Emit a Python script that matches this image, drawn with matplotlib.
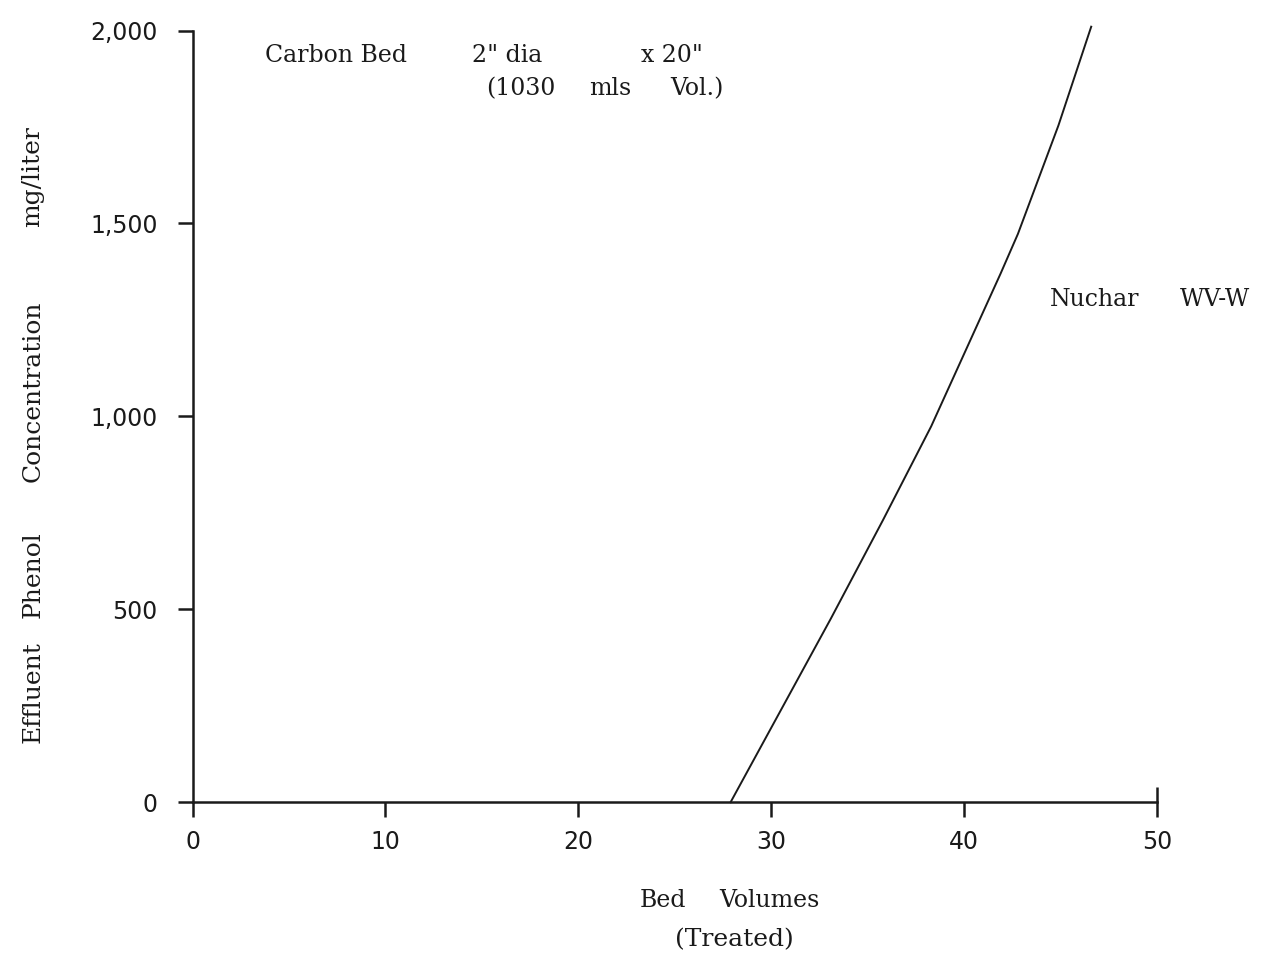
import matplotlib
matplotlib.use("Agg")
import matplotlib.pyplot as plt

# breakthrough curve, Nuchar WV-W carbon bed
bed_volumes = [27.9, 33.1, 35.8, 38.3, 41.9, 42.8, 44.9, 46.6]
phenol_mg_l = [0, 476, 731, 974, 1370, 1473, 1754, 2010]

x_ticks = [0, 10, 20, 30, 40, 50]
y_ticks = [0, 500, 1000, 1500, 2000]
y_tick_labels = ["0", "500", "1,000", "1,500", "2,000"]

ink = "#1a1a1a"
serif = "DejaVu Serif"


def spaced_words(fig, words, xs, ys, **kw):
    # typewriter-style wide spacing: one text per word
    for w, x, y in zip(words, xs, ys):
        fig.text(x, y, w, family=serif, color=ink,
                 ha="center", va="center", **kw)


fig = plt.figure(figsize=(12.67, 9.55), dpi=100)
ax = fig.add_axes([0.152, 0.160, 0.761, 0.808])

ax.plot(bed_volumes, phenol_mg_l, color=ink, linewidth=1.4, clip_on=False)

ax.set_xlim(0, 50)
ax.set_ylim(0, 2000)
ax.set_xticks(x_ticks)
ax.set_xticklabels([str(t) for t in x_ticks])
ax.set_yticks(y_ticks)
ax.set_yticklabels(y_tick_labels)

for side in ("top", "right"):
    ax.spines[side].set_visible(False)
for side in ("left", "bottom"):
    ax.spines[side].set_linewidth(1.8)
    ax.spines[side].set_color(ink)

ax.tick_params(axis="x", direction="out", length=11, width=1.8, colors=ink,
               labelsize=17, pad=9)
ax.tick_params(axis="y", direction="out", length=11, width=1.8, colors=ink,
               labelsize=17, pad=14)
for lab in ax.get_xticklabels() + ax.get_yticklabels():
    lab.set_fontfamily("DejaVu Sans")

# last x tick crosses the axis
end_tick = ax.xaxis.get_major_ticks()[-1].tick1line
end_tick.set_marker("|")
end_tick.set_markersize(22)

# y axis title
spaced_words(fig, ["Effluent", "Phenol", "Concentration", "mg/liter"],
             [0.026] * 4, [0.275, 0.398, 0.590, 0.815],
             fontsize=18, rotation=90)

# x axis title
spaced_words(fig, ["Bed", "Volumes"], [0.523, 0.607], [0.057, 0.057],
             fontsize=17)
fig.text(0.580, 0.016, "(Treated)", family=serif, fontsize=18, color=ink,
         ha="center", va="center")

# bed description
spaced_words(fig, ["Carbon Bed", '2" dia', 'x 20"'],
             [0.265, 0.400, 0.530], [0.942] * 3, fontsize=17)
spaced_words(fig, ["(1030", "mls", "Vol.)"],
             [0.411, 0.482, 0.550], [0.907] * 3, fontsize=17)

spaced_words(fig, ["Nuchar", "WV-W"], [0.864, 0.959], [0.686, 0.686],
             fontsize=17)

fig.savefig("out.png", dpi=100, facecolor="white")
